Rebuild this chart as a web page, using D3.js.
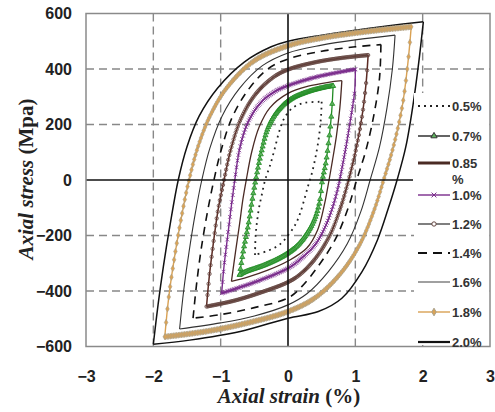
<!DOCTYPE html>
<html><head><meta charset="utf-8">
<script src="https://cdn.jsdelivr.net/npm/d3@7"></script>
<style>body{margin:0;background:#fff;} svg{display:block;}</style>
</head><body>
<svg id="c" width="495" height="412"></svg>
<script>
// ---------- data ----------
const xTicks = [-3, -2, -1, 0, 1, 2, 3];
const yTicks = [600, 400, 200, 0, -200, -400, -600];
const gridX = [-2, -1, 1, 2];
const gridY = [400, 200, -200, -400];
const legendLabels = ["0.5%", "0.7%", "0.85\n%", "1.0%", "1.2%", "1.4%", "1.6%", "1.8%", "2.0%"];

// upper branch: from compression tip to tension tip ; lower branch: from tension tip back
const up05 = [[-0.49,-270],[-0.48,-198],[-0.46,-150],[-0.43,-100],[-0.39,-54],[-0.34,0],[-0.27,50],[-0.20,110],[-0.13,175],[-0.05,225],[0.08,262],[0.25,278],[0.50,282]];
const lo05 = [[0.50,282],[0.49,228],[0.46,156],[0.41,84],[0.35,20],[0.30,-20],[0.24,-72],[0.18,-120],[0.12,-156],[0.03,-190],[-0.12,-232],[-0.29,-254],[-0.49,-270]];

const up07 = [[-0.72,-342],[-0.66,-250],[-0.59,-162],[-0.53,-70],[-0.48,0],[-0.40,96],[-0.29,192],[-0.14,252],[0.05,292],[0.30,318],[0.55,334],[0.67,339]];
const lo07 = [[0.67,339],[0.65,250],[0.61,150],[0.56,60],[0.51,0],[0.47,-78],[0.40,-138],[0.30,-186],[0.15,-234],[-0.04,-270],[-0.34,-306],[-0.64,-332],[-0.72,-342]];

const up085 = [[-0.84,-365],[-0.78,-260],[-0.72,-160],[-0.67,-70],[-0.62,0],[-0.54,100],[-0.43,190],[-0.27,260],[0,312],[0.30,338],[0.60,352],[0.80,358]];
const lo085 = [[0.80,358],[0.77,260],[0.72,160],[0.66,70],[0.61,0],[0.54,-90],[0.44,-180],[0.28,-245],[0,-292],[-0.30,-325],[-0.60,-350],[-0.84,-365]];

const up10 = [[-0.985,-408],[-0.95,-310],[-0.90,-210],[-0.85,-110],[-0.79,0],[-0.72,110],[-0.60,205],[-0.42,275],[-0.20,318],[0,340],[0.40,370],[0.75,388],[1.0,399]];
const lo10 = [[1.0,399],[0.99,320],[0.93,220],[0.87,132],[0.80,40],[0.74,-30],[0.66,-100],[0.55,-170],[0.40,-234],[0.20,-282],[0,-318],[-0.47,-366],[-0.985,-408]];

const up12 = [[-1.21,-456],[-1.17,-350],[-1.11,-230],[-1.04,-110],[-0.95,0],[-0.85,110],[-0.70,220],[-0.48,310],[-0.22,370],[0,398],[0.40,424],[0.80,440],[1.19,450]];
const lo12 = [[1.19,450],[1.16,350],[1.10,230],[1.01,110],[0.90,0],[0.78,-100],[0.62,-200],[0.40,-285],[0.18,-340],[0,-368],[-0.40,-405],[-0.80,-435],[-1.21,-456]];

const up14 = [[-1.41,-498],[-1.36,-380],[-1.29,-250],[-1.20,-120],[-1.10,0],[-0.99,110],[-0.83,225],[-0.60,322],[-0.30,400],[0,436],[0.50,464],[1.0,480],[1.38,488]];
const lo14 = [[1.38,488],[1.36,370],[1.28,240],[1.16,110],[1.02,0],[0.88,-110],[0.70,-215],[0.45,-310],[0.20,-385],[0,-425],[-0.50,-460],[-1.0,-485],[-1.41,-498]];

const up16 = [[-1.61,-537],[-1.55,-400],[-1.47,-260],[-1.38,-125],[-1.28,0],[-1.16,115],[-0.98,230],[-0.72,330],[-0.38,412],[0,458],[0.50,486],[1.0,505],[1.59,522]];
const lo16 = [[1.59,522],[1.55,400],[1.47,260],[1.36,120],[1.22,0],[1.08,-115],[0.88,-230],[0.60,-330],[0.28,-410],[0,-450],[-0.50,-490],[-1.0,-515],[-1.61,-537]];

const up18 = [[-1.83,-565],[-1.77,-420],[-1.68,-270],[-1.58,-130],[-1.47,0],[-1.33,125],[-1.15,235],[-0.90,335],[-0.50,430],[0,484],[0.50,512],[1.20,536],[1.83,552]];
const lo18 = [[1.83,552],[1.78,420],[1.70,270],[1.57,125],[1.42,0],[1.27,-115],[1.06,-235],[0.77,-340],[0.40,-425],[0,-474],[-0.60,-515],[-1.20,-545],[-1.83,-565]];

const up20 = [[-2.0,-592],[-1.93,-450],[-1.85,-310],[-1.75,-160],[-1.63,0],[-1.50,120],[-1.32,230],[-1.05,330],[-0.65,425],[-0.25,480],[0,500],[0.50,522],[1.0,540],[1.50,556],[2.01,570]];
const lo20 = [[2.01,570],[1.94,420],[1.86,276],[1.75,120],[1.62,0],[1.49,-102],[1.33,-215],[1.10,-330],[0.80,-426],[0.45,-474],[0,-498],[-0.71,-546],[-1.46,-577],[-2.0,-592]];

// ---------- styles ----------
const styles = [
  {up: up05, lo: lo05, stroke: "#222", width: 1.8, dash: "1.8,4.2"},
  {up: up07, lo: lo07, stroke: "#1f8a22", width: 1.3, marker: "triangle", mStroke: "#1f8a22", mFill: "#5fb35f", mSize: 11, step: 0.9},
  {up: up085, lo: lo085, stroke: "#4a2a24", width: 1.3},
  {up: up10, lo: lo10, stroke: "#7a2c8c", width: 1.4, marker: "x", mStroke: "#7a2c8c", mSize: 11, step: 0.9},
  {up: up12, lo: lo12, stroke: "#5c2b24", width: 1.5, marker: "circle", mStroke: "#634540", mFill: "none", mSize: 9, step: 1.0},
  {up: up14, lo: lo14, stroke: "#111", width: 1.6, dash: "8,6"},
  {up: up16, lo: lo16, stroke: "#333", width: 1.1},
  {up: up18, lo: lo18, stroke: "#d9a153", width: 1.4, marker: "diamond", mStroke: "#a8a08a", mFill: "#dca354", mSize: 11, step: 1.3},
  {up: up20, lo: lo20, stroke: "#111", width: 1.5}
];

// ---------- drawing ----------
const svg = d3.select("#c");
const x = d3.scaleLinear().domain([-3, 3]).range([86, 490]);
const y = d3.scaleLinear().domain([-600, 600]).range([346.5, 13.5]);

// grid
const g = svg.append("g");
g.selectAll(".gx").data(gridX).enter().append("line")
  .attr("x1", d => x(d)).attr("x2", d => x(d)).attr("y1", y(600)).attr("y2", y(-600))
  .attr("stroke", "#888").attr("stroke-width", 1.4).attr("stroke-dasharray", "8,5");
g.selectAll(".gy").data(gridY).enter().append("line")
  .attr("x1", x(-3)).attr("x2", x(3)).attr("y1", d => y(d)).attr("y2", d => y(d))
  .attr("stroke", "#888").attr("stroke-width", 1.4).attr("stroke-dasharray", "8,5");

const line = d3.line().x(d => x(d[0])).y(d => y(d[1])).curve(d3.curveCatmullRom.alpha(0.5));

function symbolPath(kind, size) {
  const t = kind === "triangle" ? d3.symbolTriangle : kind === "x" ? (d3.symbolX || d3.symbolCross)
          : kind === "diamond" ? d3.symbolDiamond : d3.symbolCircle;
  return d3.symbol().type(t).size(size)();
}

function markersAlong(node, stepPx) {
  const L = node.getTotalLength();
  const pts = [];
  let last = null;
  for (let s = 0; s <= L; s += 0.4) {
    const p = node.getPointAtLength(s);
    if (!last || Math.abs(p.x - last.x) >= stepPx) { pts.push([p.x, p.y]); last = p; }
  }
  return pts;
}

const curves = svg.append("g");
styles.slice().reverse().forEach(st => {
  [st.up, st.lo].forEach(branch => {
    const p = curves.append("path").datum(branch).attr("d", line)
      .attr("fill", "none").attr("stroke", st.stroke).attr("stroke-width", st.width)
      .attr("stroke-dasharray", st.dash || null);
    if (st.marker) {
      const pts = markersAlong(p.node(), st.step);
      const sp = symbolPath(st.marker, st.mSize);
      curves.append("g").selectAll("path").data(pts).enter().append("path")
        .attr("d", sp).attr("transform", d => `translate(${d[0]},${d[1]})` + (st.marker === "x" && !d3.symbolX ? " rotate(45)" : ""))
        .attr("fill", st.marker === "x" ? "none" : st.mFill)
        .attr("stroke", st.mStroke).attr("stroke-width", st.marker === "diamond" ? 0.6 : 0.8);
    }
  });
});

// axes lines through origin
svg.append("line").attr("x1", x(0)).attr("x2", x(0)).attr("y1", y(600)).attr("y2", y(-600))
  .attr("stroke", "#111").attr("stroke-width", 1.6);
svg.append("line").attr("x1", x(-3)).attr("x2", 413).attr("y1", y(0)).attr("y2", y(0))
  .attr("stroke", "#111").attr("stroke-width", 1.6);

// legend box
svg.append("rect").attr("x", 414).attr("y", 93).attr("width", 75.5).attr("height", 252).attr("fill", "#fff");

// frame
svg.append("rect").attr("x", x(-3)).attr("y", y(600)).attr("width", x(3) - x(-3)).attr("height", y(-600) - y(600))
  .attr("fill", "none").attr("stroke", "#8a8a8a").attr("stroke-width", 1.5);

// tick labels
const fontSans = "'Liberation Sans', Arial, sans-serif";
const yAxis = svg.append("g").attr("transform", `translate(${x(-3)},0)`)
  .call(d3.axisLeft(y).tickValues(yTicks).tickSize(0).tickPadding(14).tickFormat(d3.format("d")));
yAxis.select(".domain").remove();
yAxis.selectAll("text").attr("font-family", fontSans).attr("font-weight", "bold").attr("font-size", 16).attr("fill", "#222");

const xAxis = svg.append("g").attr("transform", `translate(0,${y(-600)})`)
  .call(d3.axisBottom(x).tickValues(xTicks).tickSize(0).tickPadding(24).tickFormat(d3.format("d")));
xAxis.select(".domain").remove();
xAxis.selectAll("text").attr("font-family", fontSans).attr("font-weight", "bold").attr("font-size", 16).attr("fill", "#222");

// axis titles
const fontSerif = "'Liberation Serif', 'Times New Roman', serif";
const xt = svg.append("text").attr("x", 289).attr("y", 403).attr("text-anchor", "middle")
  .attr("font-family", fontSerif).attr("font-weight", "bold").attr("font-size", 21).attr("fill", "#222");
xt.append("tspan").attr("font-style", "italic").text("Axial strain ");
xt.append("tspan").text("(%)");

const yt = svg.append("text").attr("transform", "translate(33,179) rotate(-90)").attr("text-anchor", "middle")
  .attr("font-family", fontSerif).attr("font-weight", "bold").attr("font-size", 21).attr("fill", "#222");
yt.append("tspan").attr("font-style", "italic").text("Axial stress ");
yt.append("tspan").text("(Mpa)");

// legend
const legendY = [106, 136, 163, 195, 224, 253, 282, 312, 342];
const lg = svg.append("g");
legendLabels.forEach((lab, i) => {
  const st = styles[i];
  const ly = legendY[i];
  const sw = (i === 2) ? 3 : (i === 8 ? 2.2 : (i === 5 ? 2.2 : Math.max(st.width, 1.4)));
  const lstroke = (i === 1) ? "#222" : (i === 4 ? "#555" : (i === 6 ? "#777" : st.stroke));
  lg.append("line").attr("x1", 418).attr("x2", 450).attr("y1", ly).attr("y2", ly)
    .attr("stroke", lstroke).attr("stroke-width", sw)
    .attr("stroke-dasharray", i === 0 ? "2,4" : (i === 5 ? "9,6" : null));
  if (st.marker) {
    lg.append("path").attr("d", symbolPath(st.marker, st.mSize + 6))
      .attr("transform", `translate(434,${ly})` + (st.marker === "x" && !d3.symbolX ? " rotate(45)" : ""))
      .attr("fill", st.marker === "x" ? "none" : (st.marker === "circle" ? "#fff" : st.mFill))
      .attr("stroke", i === 1 ? "#333" : st.mStroke).attr("stroke-width", 1);
  }
  const parts = lab.split("\n");
  parts.forEach((p, k) => {
    lg.append("text").attr("x", 452).attr("y", ly + 5 + k * 15.5)
      .attr("font-family", fontSans).attr("font-weight", "bold").attr("font-size", 13)
      .attr("fill", "#333").text(p);
  });
});
</script>
</body></html>
